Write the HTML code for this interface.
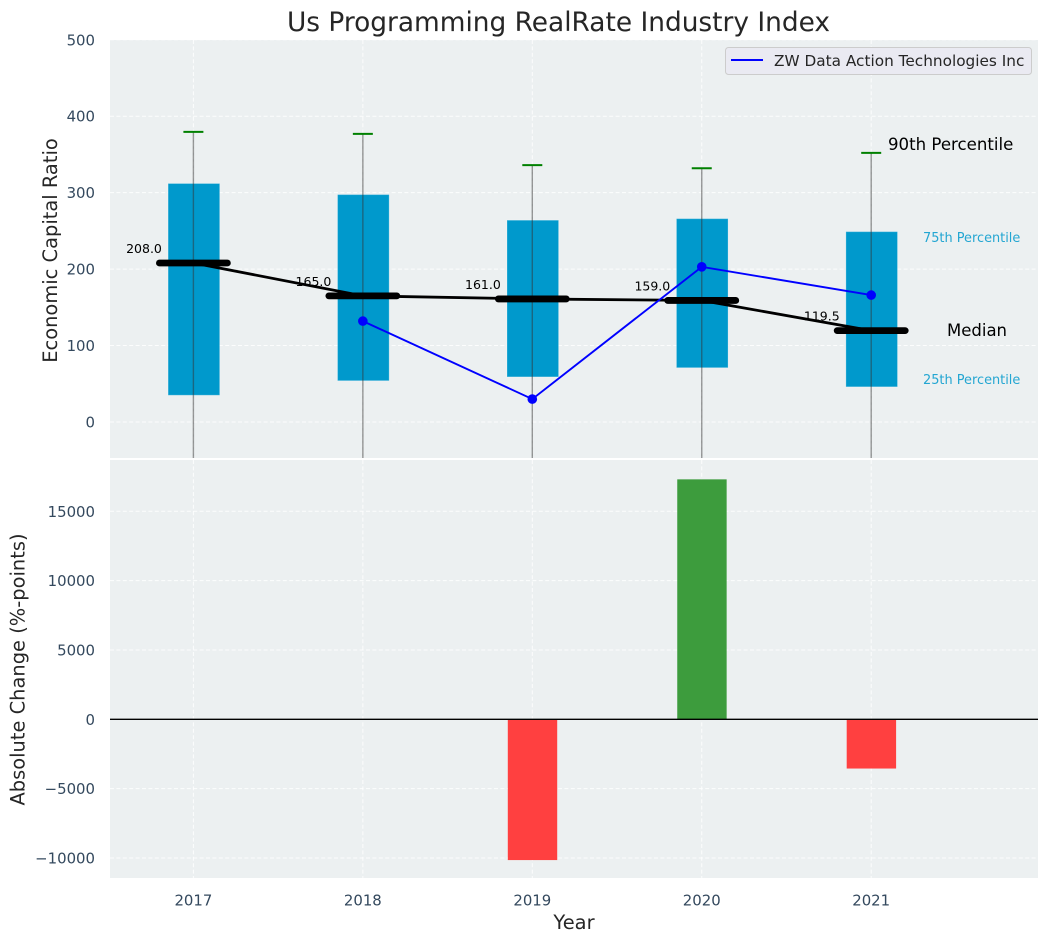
<!DOCTYPE html>
<html lang="en">
<head>
<meta charset="utf-8">
<title>Us Programming RealRate Industry Index</title>
<style>
html,body{margin:0;padding:0;background:#fff;width:1048px;height:942px;overflow:hidden}
svg{display:block;font-family:"DejaVu Sans","Liberation Sans",sans-serif}
</style>
</head>
<body>
<svg id="chart" xmlns="http://www.w3.org/2000/svg" width="1048" height="942" viewBox="0 0 1048 942">
  <defs>
    <clipPath id="top-clip"><rect x="110" y="40" width="928" height="418"/></clipPath>
    <clipPath id="bottom-clip"><rect x="110" y="460" width="928" height="418"/></clipPath>
  </defs>
  <rect x="110" y="40" width="928" height="418" fill="#ecf0f1"/>
  <rect x="110" y="460" width="928" height="418" fill="#ecf0f1"/>
  <g id="grid-layer"></g>
  <g id="top-layer" clip-path="url(#top-clip)"></g>
  <g id="bottom-layer" clip-path="url(#bottom-clip)"></g>
  <g id="label-layer"></g>
  <text x="558.5" y="31" text-anchor="middle" font-size="26.4px" fill="#262626">Us Programming RealRate Industry Index</text>
  <text transform="translate(57 250.5) rotate(-90)" text-anchor="middle" font-size="19.45px" fill="#262626">Economic Capital Ratio</text>
  <text transform="translate(24.5 669.5) rotate(-90)" text-anchor="middle" font-size="19.45px" fill="#262626">Absolute Change (%-points)</text>
  <text x="574" y="929" text-anchor="middle" font-size="19.45px" fill="#262626">Year</text>
  <text x="888" y="150" font-size="16.6px" fill="#000">90th Percentile</text>
  <text x="923" y="242" font-size="12.9px" fill="#0099cc" fill-opacity="0.85">75th Percentile</text>
  <text x="947" y="336" font-size="16.5px" fill="#000">Median</text>
  <text x="923" y="384" font-size="12.9px" fill="#0099cc" fill-opacity="0.85">25th Percentile</text>
  <g>
    <rect x="725.5" y="47.5" width="306" height="27" rx="3" fill="#eaeaf2" stroke="#cccccc" stroke-width="1"/>
    <line x1="731" y1="60" x2="763" y2="60" stroke="#0000ff" stroke-width="2"/>
    <text x="774" y="66" font-size="15.3px" fill="#262626">ZW Data Action Technologies Inc</text>
  </g>
</svg>
<script>
const years = [2017, 2018, 2019, 2020, 2021];
const p90 = [379.5, 377, 336, 332, 352];
const p75 = [312, 297.5, 264, 266, 249];
const medians = [208, 165, 161, 159, 119.5];
const p25 = [35, 54, 59, 71, 46];
const p10 = [-120, -120, -120, -120, -120];
const companyValues = [null, 132, 30, 203, 166];
const changes = [null, null, -10150, 17300, -3550];
const topTicks = [0, 100, 200, 300, 400, 500];
const bottomTicks = [-10000, -5000, 0, 5000, 10000, 15000];
const medianText = ['208.0', '165.0', '161.0', '159.0', '119.5'];

const NS = 'http://www.w3.org/2000/svg';
function xPos(year) { return 193.4 + (year - 2017) * 169.45; }
function yTop(v) { return 422 - v * 0.7644; }
function yBottom(v) { return 719.3 - v * 0.01387; }
function make(tag, parent, attrs) {
  const el = document.createElementNS(NS, tag);
  for (const k in attrs) el.setAttribute(k, attrs[k]);
  parent.appendChild(el);
  return el;
}
const grid = document.getElementById('grid-layer');
const topLayer = document.getElementById('top-layer');
const bottomLayer = document.getElementById('bottom-layer');
const labels = document.getElementById('label-layer');
const gridStyle = { stroke: '#ffffff', 'stroke-width': 1, 'stroke-dasharray': '4 2.4', 'stroke-opacity': 0.85 };

topTicks.forEach(function (t) {
  const y = yTop(t);
  const g = make('line', grid, Object.assign({ x1: 110, x2: 1038, y1: y, y2: y }, gridStyle));
  
  
  const l = make('text', labels, { x: 95, y: y + 5.5, 'text-anchor': 'end', 'font-size': '14.9px', fill: '#34495e' });
  l.textContent = String(t);
  
  
});
bottomTicks.forEach(function (t) {
  const y = yBottom(t);
  const g = make('line', grid, Object.assign({ x1: 110, x2: 1038, y1: y, y2: y }, gridStyle));
  
  
  const l = make('text', labels, { x: 95, y: y + 5.5, 'text-anchor': 'end', 'font-size': '14.9px', fill: '#34495e' });
  l.textContent = String(t).replace('-', '\u2212');
  
  
});
years.forEach(function (yr) {
  const x = xPos(yr);
  const g1 = make('line', grid, Object.assign({ x1: x, x2: x, y1: 40, y2: 458 }, gridStyle));
  
  
  const g2 = make('line', grid, Object.assign({ x1: x, x2: x, y1: 460, y2: 878 }, gridStyle));
  
  
  const l = make('text', labels, { x: x, y: 905.5, 'text-anchor': 'middle', 'font-size': '14.9px', fill: '#34495e' });
  l.textContent = String(yr);
  
  
});

years.forEach(function (yr, i) {
  const x = xPos(yr);
  const box = make('rect', topLayer, { x: x - 25.3, y: yTop(p75[i]), width: 51.6, height: yTop(p25[i]) - yTop(p75[i]), fill: '#0099cc', stroke: '#ffffff', 'stroke-opacity': 0.25, 'stroke-width': 1 });
  
  
});
years.forEach(function (yr, i) {
  const x = xPos(yr);
  const w = make('line', topLayer, { x1: x, x2: x, y1: yTop(p90[i]), y2: yTop(p10[i]), stroke: '#333333', 'stroke-opacity': 0.5, 'stroke-width': 1.4 });
  
  
  const c = make('line', topLayer, { x1: x - 10, x2: x + 10, y1: yTop(p90[i]), y2: yTop(p90[i]), stroke: '#008000', 'stroke-width': 2 });
  
  
});

const medianPts = years.map(function (yr, i) { return xPos(yr) + ',' + yTop(medians[i]); }).join(' ');
const medianLine = make('polyline', topLayer, { points: medianPts, fill: 'none', stroke: '#000000', 'stroke-width': 2.8 });



years.forEach(function (yr, i) {
  const x = xPos(yr);
  const m = make('line', topLayer, { x1: x - 34, x2: x + 34, y1: yTop(medians[i]), y2: yTop(medians[i]), stroke: '#000000', 'stroke-width': 6.8, 'stroke-linecap': 'round' });
  
  
  const t = make('text', topLayer, { x: x - 31.5, y: yTop(medians[i]) - 10, 'text-anchor': 'end', 'font-size': '12.5px', fill: '#000000' });
  t.textContent = medianText[i];
  
  
});

const companyPts = years.map(function (yr, i) {
  return companyValues[i] === null ? null : xPos(yr) + ',' + yTop(companyValues[i]);
}).filter(Boolean).join(' ');
const companyLine = make('polyline', topLayer, { points: companyPts, fill: 'none', stroke: '#0000ff', 'stroke-width': 1.9 });


years.forEach(function (yr, i) {
  if (companyValues[i] === null) return;
  const p = make('circle', topLayer, { cx: xPos(yr), cy: yTop(companyValues[i]), r: 4.8, fill: '#0000ff' });
  
  
});

years.forEach(function (yr, i) {
  const v = changes[i];
  if (v === null) return;
  const y0 = yBottom(Math.max(v, 0));
  const y1 = yBottom(Math.min(v, 0));
  const b = make('rect', bottomLayer, { x: xPos(yr) - 24.5, y: y0, width: 49.4, height: y1 - y0, fill: v >= 0 ? '#3d9c3d' : '#ff4040' });
  
  
});
const zero = make('line', bottomLayer, { x1: 110, x2: 1038, y1: yBottom(0), y2: yBottom(0), stroke: '#000000', 'stroke-width': 1.4 });


</script>
</body>
</html>
